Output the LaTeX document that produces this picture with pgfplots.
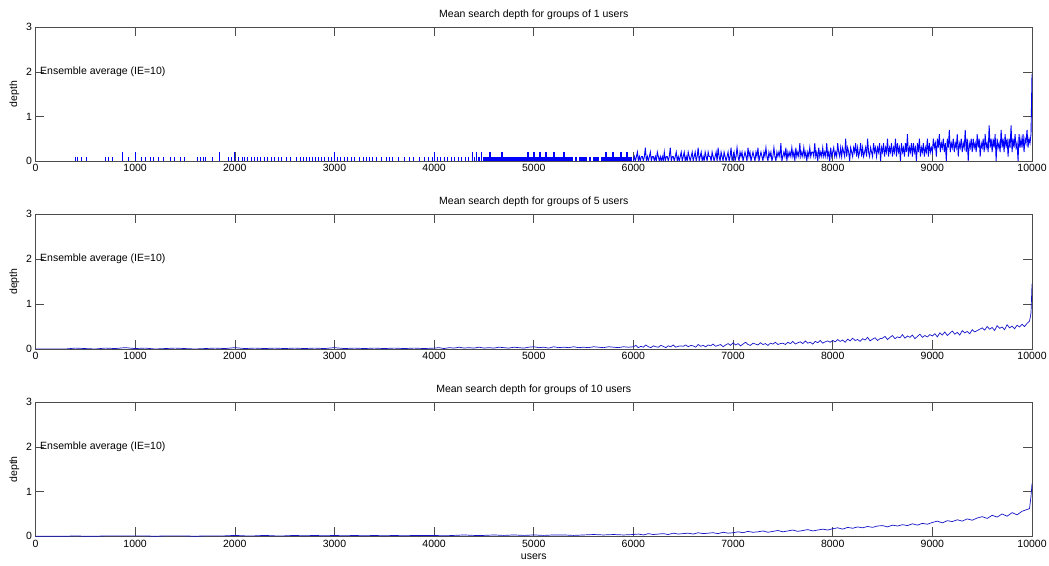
\documentclass[border=0pt]{standalone}
\usepackage{fontspec}
\setmainfont{Liberation Sans}
\usepackage{pgfplots}
\pgfplotsset{compat=1.18}
\definecolor{mblue}{RGB}{0,0,255}
\definecolor{mdark}{RGB}{20,20,200}
\pgfplotsset{mstyle/.style={
  scale only axis, width=996.5pt,
  xmin=0, xmax=10000, ymin=0, ymax=3,
  xtick={0,1000,...,10000}, ytick={0,1,2,3},
  scaled x ticks=false,
  /pgf/number format/1000 sep={},
  /pgf/number format/assume math mode=true,
  tick align=inside, major tick length=9pt,
  axis line style={black!70, line width=0.6pt},
  tick style={black!70, line width=0.6pt},
  font=\fontsize{10.5}{12}\selectfont,
  ylabel={depth},
  anchor=south west,
  title style={yshift=-2pt},
}}
\pgfplotstableread{
x y
6000 0
6010 0.1
6020 0
6030 0.1
6040 0.2
6050 0
6060 0.1
6070 0
6080 0.1
6090 0.1
6100 0
6110 0.1
6120 0.3
6130 0
6140 0.1
6150 0
6160 0.1
6170 0.2
6180 0
6190 0.1
6200 0.1
6210 0
6220 0.1
6230 0
6240 0.2
6250 0.1
6260 0
6270 0.1
6280 0
6290 0.1
6300 0
6310 0.2
6320 0
6330 0.1
6340 0.1
6350 0
6360 0.1
6370 0.3
6380 0
6390 0.1
6400 0.1
6410 0
6420 0.1
6430 0.2
6440 0
6450 0.1
6460 0
6470 0.1
6480 0.2
6490 0
6500 0.1
6510 0.2
6520 0
6530 0.1
6540 0
6550 0.2
6560 0.1
6570 0
6580 0.1
6590 0.2
6600 0
6610 0.1
6620 0.2
6630 0
6640 0.1
6650 0.3
6660 0
6670 0.1
6680 0.2
6690 0
6700 0.1
6710 0
6720 0.2
6730 0.1
6740 0
6750 0.2
6760 0.1
6770 0.1
6780 0
6790 0.2
6800 0.1
6810 0
6820 0.1
6830 0.2
6840 0
6850 0.3
6860 0.1
6870 0
6880 0.2
6890 0.1
6900 0
6910 0.2
6920 0.1
6930 0
6940 0.1
6950 0.2
6960 0
6970 0.1
6980 0.3
6990 0
7000 0.1
7010 0.2
7020 0
7030 0.1
7040 0.3
7050 0.1
7060 0
7070 0.2
7080 0.1
7090 0.2
7100 0
7110 0.1
7120 0.2
7130 0.1
7140 0
7150 0.3
7160 0.1
7170 0.2
7180 0
7190 0.1
7200 0.2
7210 0.1
7220 0
7230 0.2
7240 0.1
7250 0.3
7260 0
7270 0.1
7280 0.2
7290 0.1
7300 0
7310 0.2
7320 0.1
7330 0.3
7340 0.1
7350 0
7360 0.2
7370 0.1
7380 0.2
7390 0
7400 0.1
7410 0.3
7420 0.1
7430 0
7440 0.2
7450 0.1
7460 0.2
7470 0.1
7480 0.4
7490 0
7500 0.1
7510 0.2
7520 0.1
7530 0.3
7540 0
7550 0.2
7560 0.1
7570 0.2
7580 0.1
7590 0.3
7600 0.1
7610 0.2
7620 0
7630 0.3
7640 0.1
7650 0.2
7660 0.1
7670 0.4
7680 0.1
7690 0.2
7700 0.1
7710 0.3
7720 0.1
7730 0.2
7740 0
7750 0.2
7760 0.1
7770 0.3
7780 0.1
7790 0.2
7800 0.2
7810 0.1
7820 0.4
7830 0.1
7840 0.2
7850 0
7860 0.3
7870 0.1
7880 0.2
7890 0.1
7900 0.3
7910 0.1
7920 0.2
7930 0.1
7940 0.4
7950 0.1
7960 0.2
7970 0
7980 0.3
7990 0.1
8000 0.2
8010 0.3
8020 0.1
8030 0.2
8040 0.1
8050 0.4
8060 0.2
8070 0.1
8080 0.3
8090 0.1
8100 0.3
8110 0.2
8120 0.1
8130 0.5
8140 0.1
8150 0.3
8160 0.2
8170 0
8180 0.3
8190 0.2
8200 0.1
8210 0.3
8220 0.2
8230 0.4
8240 0.1
8250 0.3
8260 0.1
8270 0.2
8280 0.4
8290 0.1
8300 0.3
8310 0.1
8320 0.2
8330 0.3
8340 0.1
8350 0.5
8360 0.2
8370 0.1
8380 0.3
8390 0.2
8400 0.1
8410 0.4
8420 0.2
8430 0.3
8440 0.1
8450 0.3
8460 0.2
8470 0.4
8480 0
8490 0.3
8500 0.2
8510 0.4
8520 0.1
8530 0.3
8540 0.2
8550 0.5
8560 0.1
8570 0.3
8580 0.2
8590 0.4
8600 0.1
8610 0.3
8620 0.2
8630 0.5
8640 0.1
8650 0.4
8660 0.2
8670 0.3
8680 0
8690 0.4
8700 0.2
8710 0.3
8720 0.1
8730 0.4
8740 0.2
8750 0.6
8760 0.1
8770 0.3
8780 0.2
8790 0.4
8800 0.1
8810 0.4
8820 0.2
8830 0.3
8840 0
8850 0.4
8860 0.2
8870 0.5
8880 0.1
8890 0.3
8900 0.2
8910 0.4
8920 0.1
8930 0.3
8940 0.2
8950 0.5
8960 0.1
8970 0.4
8980 0.2
8990 0.3
9000 0.2
9010 0.5
9020 0.3
9030 0.4
9040 0.1
9050 0.5
9060 0.3
9070 0.6
9080 0.2
9090 0.4
9100 0.3
9110 0.5
9120 0.2
9130 0.4
9140 0
9150 0.5
9160 0.3
9170 0.7
9180 0.2
9190 0.4
9200 0.3
9210 0.5
9220 0.2
9230 0.4
9240 0.3
9250 0.6
9260 0.1
9270 0.4
9280 0.3
9290 0.5
9300 0.2
9310 0.4
9320 0.3
9330 0.7
9340 0.2
9350 0.5
9360 0
9370 0.4
9380 0.3
9390 0.5
9400 0.2
9410 0.5
9420 0.3
9430 0.4
9440 0.2
9450 0.6
9460 0.3
9470 0.5
9480 0.1
9490 0.4
9500 0.3
9510 0.5
9520 0.2
9530 0.6
9540 0.3
9550 0.4
9560 0.2
9570 0.8
9580 0.3
9590 0.5
9600 0.2
9610 0.5
9620 0.3
9630 0.6
9640 0
9650 0.5
9660 0.3
9670 0.4
9680 0.2
9690 0.7
9700 0.3
9710 0.5
9720 0.2
9730 0.6
9740 0.3
9750 0.5
9760 0.1
9770 0.5
9780 0.3
9790 0.8
9800 0.2
9810 0.5
9820 0.3
9830 0.6
9840 0.3
9850 0.4
9860 0
9870 0.6
9880 0.3
9890 0.5
9900 0.3
9910 0.6
9920 0.2
9930 0.5
9940 0.4
9950 0.7
9960 0.3
9970 0.5
9980 0.4
9990 0.6
10000 1.95
}\topdense
\begin{document}
\begin{tikzpicture}
\useasboundingbox (0pt,0pt) rectangle (1049pt,565pt);
% ---------------- top: groups of 1 ----------------
\begin{axis}[mstyle, at={(35.5pt,404pt)}, height=133.7pt,
  title={Mean search depth for groups of 1 users}]
\addplot[mblue, ycomb, line width=0.9pt, mark=none] coordinates {
(400,0.1)(420,0.1)(460,0.1)(510,0.1)(700,0.1)(730,0.1)(770,0.1)(870,0.2)(930,0.1)(1000,0.2)
(1060,0.1)(1100,0.1)(1150,0.1)(1180,0.1)(1230,0.1)(1280,0.1)(1350,0.1)(1390,0.1)(1450,0.1)(1490,0.1)
(1630,0.1)(1660,0.1)(1690,0.1)(1710,0.1)(1780,0.1)(1850,0.2)(1940,0.1)(1970,0.1)(2000,0.2)(2040,0.1)
(2080,0.1)(2100,0.1)(2130,0.1)(2170,0.1)(2200,0.1)(2230,0.1)(2260,0.1)(2300,0.1)(2330,0.1)(2370,0.1)
(2400,0.1)(2440,0.1)(2470,0.1)(2520,0.1)(2560,0.1)(2620,0.1)(2660,0.1)(2690,0.1)(2720,0.1)(2750,0.1)
(2780,0.1)(2810,0.1)(2840,0.1)(2870,0.1)(2900,0.1)(2940,0.1)(2970,0.1)(3000,0.2)(3030,0.1)(3060,0.1)
(3100,0.1)(3130,0.1)(3170,0.1)(3200,0.1)(3250,0.1)(3290,0.1)(3320,0.1)(3350,0.1)(3380,0.1)(3420,0.1)
(3470,0.1)(3520,0.1)(3550,0.1)(3580,0.1)(3640,0.1)(3700,0.1)(3750,0.1)(3790,0.1)(3850,0.1)(3900,0.1)
(3940,0.1)(3980,0.1)(4000,0.2)(4030,0.1)(4060,0.1)(4100,0.1)(4130,0.1)(4170,0.1)(4200,0.1)(4240,0.1)
(4270,0.1)(4310,0.1)(4340,0.1)(4380,0.2)(4400,0.1)(4420,0.2)(4440,0.1)(4460,0.1)(4480,0.2)
};
\addplot[mblue, ycomb, line width=2pt, mark=none] coordinates {
(4500,0.1)(4520,0.1)(4540,0.1)(4560,0.2)(4580,0.1)(4600,0.1)(4620,0.1)(4640,0.1)(4660,0.1)(4680,0.2)
(4700,0.1)(4720,0.1)(4740,0.1)(4760,0.1)(4780,0.1)(4800,0.1)(4820,0.1)(4840,0.1)(4860,0.1)(4880,0.1)
(4900,0.1)(4920,0.1)(4940,0.2)(4960,0.1)(4980,0.1)(5000,0.2)(5020,0.1)(5040,0.1)(5060,0.2)(5080,0.1)
(5100,0.1)(5120,0.2)(5140,0.1)(5160,0.1)(5180,0.1)(5200,0.2)(5220,0.1)(5240,0.1)(5260,0.1)(5280,0.1)
(5300,0.2)(5320,0.1)(5340,0.1)(5360,0.1)(5380,0.1)(5420,0.1)(5460,0.1)(5480,0.1)(5500,0.1)(5520,0.1)
(5560,0.1)(5600,0.1)(5620,0.1)(5640,0.1)(5680,0.1)(5700,0.1)(5720,0.2)(5740,0.1)(5760,0.1)(5780,0.1)
(5800,0.2)(5820,0.1)(5840,0.1)(5860,0.1)(5880,0.2)(5900,0.1)(5920,0.1)(5940,0.2)(5960,0.1)(5980,0.1)
};
\addplot[mblue, line width=0.9pt, mark=none] table[x=x, y=y] {\topdense};
\node[anchor=west, inner sep=0pt] at (axis cs:45,2) {Ensemble average (IE=10)};
\end{axis}
% ---------------- middle: groups of 5 ----------------
\begin{axis}[mstyle, at={(35.5pt,216pt)}, height=134.7pt,
  title={Mean search depth for groups of 5 users}]
\addplot[mdark, line width=0.7pt, mark=none] coordinates {
(0,0)(100,0)(200,0)(300,0)(400,0.02)(500,0.01)(600,0)(700,0.02)(800,0.01)(900,0.03)
(1000,0.01)(1100,0.02)(1200,0)(1300,0.01)(1400,0.02)(1500,0.01)(1600,0)(1700,0.01)(1800,0.02)(1900,0.01)
(2000,0.03)(2100,0.01)(2200,0.02)(2300,0.01)(2400,0.02)(2500,0.01)(2600,0.02)(2700,0.01)(2800,0.02)(2900,0.01)
(3000,0.03)(3100,0.01)(3200,0.02)(3300,0.01)(3400,0.02)(3500,0.01)(3600,0.02)(3700,0.01)(3800,0.02)(3900,0.01)
(4000,0.02)(4050,0.03)(4100,0.01)(4150,0.03)(4200,0.02)(4250,0.04)(4300,0.02)(4350,0.03)(4400,0.02)(4450,0.04)
(4500,0.02)(4550,0.03)(4600,0.02)(4650,0.04)(4700,0.03)(4750,0.02)(4800,0.04)(4850,0.03)(4900,0.02)(4950,0.04)
(5000,0.05)(5050,0.03)(5100,0.04)(5150,0.02)(5200,0.05)(5250,0.03)(5300,0.04)(5350,0.03)(5400,0.05)(5450,0.03)
(5500,0.04)(5550,0.03)(5600,0.05)(5650,0.04)(5700,0.03)(5750,0.05)(5800,0.04)(5850,0.03)(5900,0.05)(5950,0.04)
(6000,0.05)(6025,0.08)(6050,0.03)(6075,0.06)(6100,0.04)(6125,0.09)(6150,0.05)(6175,0.03)(6200,0.07)(6225,0.05)
(6250,0.04)(6275,0.08)(6300,0.06)(6325,0.03)(6350,0.07)(6375,0.05)(6400,0.09)(6425,0.04)(6450,0.06)(6475,0.07)
(6500,0.06)(6525,0.09)(6550,0.05)(6575,0.08)(6600,0.07)(6625,0.04)(6650,0.10)(6675,0.06)(6700,0.08)(6725,0.05)
(6750,0.09)(6775,0.07)(6800,0.11)(6825,0.06)(6850,0.08)(6875,0.10)(6900,0.05)(6925,0.09)(6950,0.12)(6975,0.08)
(7000,0.14)(7025,0.09)(7050,0.12)(7075,0.07)(7100,0.11)(7125,0.15)(7150,0.10)(7175,0.08)(7200,0.13)(7225,0.11)
(7250,0.09)(7275,0.14)(7300,0.10)(7325,0.12)(7350,0.08)(7375,0.13)(7400,0.11)(7425,0.15)(7450,0.10)(7475,0.12)
(7500,0.13)(7525,0.10)(7550,0.15)(7575,0.12)(7600,0.17)(7625,0.11)(7650,0.14)(7675,0.16)(7700,0.12)(7725,0.18)
(7750,0.13)(7775,0.15)(7800,0.11)(7825,0.17)(7850,0.14)(7875,0.19)(7900,0.13)(7925,0.16)(7950,0.18)(7975,0.15)
(8000,0.19)(8025,0.16)(8050,0.21)(8075,0.17)(8100,0.20)(8125,0.15)(8150,0.22)(8175,0.18)(8200,0.24)(8225,0.19)
(8250,0.21)(8275,0.17)(8300,0.23)(8325,0.20)(8350,0.26)(8375,0.18)(8400,0.22)(8425,0.25)(8450,0.19)(8475,0.23)
(8500,0.24)(8525,0.28)(8550,0.21)(8575,0.26)(8600,0.30)(8625,0.23)(8650,0.27)(8675,0.25)(8700,0.32)(8725,0.24)
(8750,0.29)(8775,0.26)(8800,0.31)(8825,0.23)(8850,0.28)(8875,0.33)(8900,0.26)(8925,0.30)(8950,0.27)(8975,0.32)
(9000,0.29)(9025,0.34)(9050,0.27)(9075,0.36)(9100,0.31)(9125,0.38)(9150,0.30)(9175,0.35)(9200,0.40)(9225,0.33)
(9250,0.37)(9275,0.31)(9300,0.41)(9325,0.36)(9350,0.39)(9375,0.34)(9400,0.43)(9425,0.38)(9450,0.41)(9475,0.44)
(9500,0.47)(9525,0.42)(9550,0.50)(9575,0.44)(9600,0.48)(9625,0.41)(9650,0.52)(9675,0.46)(9700,0.49)(9725,0.43)
(9750,0.54)(9775,0.47)(9800,0.51)(9825,0.45)(9850,0.53)(9875,0.49)(9900,0.55)(9925,0.50)(9950,0.57)(9975,0.62)
(9990,0.80)(10000,1.45)
};
\node[anchor=west, inner sep=0pt] at (axis cs:45,2) {Ensemble average (IE=10)};
\end{axis}
% ---------------- bottom: groups of 10 ----------------
\begin{axis}[mstyle, at={(35.5pt,28.7pt)}, height=134pt,
  title={Mean search depth for groups of 10 users}, xlabel={users}]
\addplot[mdark, line width=0.7pt, mark=none] coordinates {
(0,0)(100,0)(200,0)(300,0)(400,0.01)(500,0)(600,0)(700,0.01)(800,0.01)(900,0.01)
(1000,0.01)(1100,0.01)(1200,0)(1300,0.01)(1400,0.01)(1500,0.01)(1600,0)(1700,0.01)(1800,0.01)(1900,0.01)
(2000,0.02)(2100,0.01)(2200,0.01)(2300,0.02)(2400,0.01)(2500,0.01)(2600,0.02)(2700,0.01)(2800,0.02)(2900,0.01)
(3000,0.02)(3100,0.01)(3200,0.02)(3300,0.01)(3400,0.02)(3500,0.01)(3600,0.02)(3700,0.01)(3800,0.02)(3900,0.02)
(4000,0.02)(4100,0.01)(4200,0.02)(4300,0.03)(4400,0.02)(4500,0.02)(4600,0.03)(4700,0.02)(4800,0.03)(4900,0.02)
(5000,0.03)(5100,0.02)(5200,0.03)(5300,0.03)(5400,0.02)(5500,0.03)(5600,0.04)(5700,0.03)(5800,0.04)(5900,0.03)
(6000,0.04)(6050,0.05)(6100,0.03)(6150,0.06)(6200,0.04)(6250,0.05)(6300,0.06)(6350,0.04)(6400,0.07)(6450,0.05)
(6500,0.06)(6550,0.07)(6600,0.05)(6650,0.08)(6700,0.06)(6750,0.07)(6800,0.08)(6850,0.06)(6900,0.09)(6950,0.07)
(7000,0.08)(7050,0.10)(7100,0.08)(7150,0.11)(7200,0.09)(7250,0.10)(7300,0.12)(7350,0.09)(7400,0.11)(7450,0.13)
(7500,0.10)(7550,0.12)(7600,0.14)(7650,0.11)(7700,0.13)(7750,0.15)(7800,0.12)(7850,0.14)(7900,0.16)(7950,0.14)
(8000,0.17)(8050,0.19)(8100,0.16)(8150,0.20)(8200,0.18)(8250,0.21)(8300,0.19)(8350,0.22)(8400,0.20)(8450,0.23)
(8500,0.24)(8550,0.21)(8600,0.25)(8650,0.23)(8700,0.26)(8750,0.24)(8800,0.28)(8850,0.25)(8900,0.29)(8950,0.27)
(9000,0.31)(9050,0.34)(9100,0.30)(9150,0.35)(9200,0.33)(9250,0.37)(9300,0.34)(9350,0.39)(9400,0.36)(9450,0.41)
(9500,0.44)(9550,0.40)(9600,0.47)(9650,0.43)(9700,0.50)(9750,0.45)(9800,0.53)(9850,0.48)(9900,0.56)(9950,0.60)
(9975,0.62)(9990,0.90)(10000,1.18)
};
\node[anchor=west, inner sep=0pt] at (axis cs:45,2) {Ensemble average (IE=10)};
\end{axis}
\end{tikzpicture}
\end{document}
